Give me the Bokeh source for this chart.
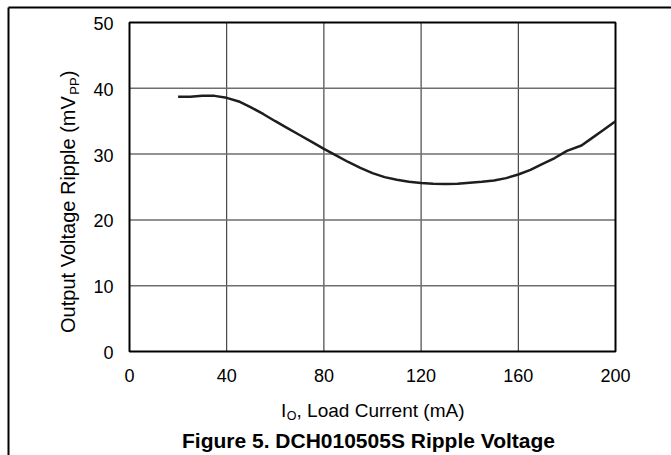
import math
from bokeh.plotting import figure
from bokeh.models import Range1d
from bokeh.core.properties import value
from bokeh.embed import file_html
from bokeh.resources import INLINE

# ---- data ----
load_current_ma = [20, 25, 30, 35, 40, 45, 50, 55, 60, 65, 70, 75, 80, 85, 90,
                   95, 100, 105, 110, 115, 120, 125, 130, 135, 140, 145, 150,
                   155, 160, 165, 170, 175, 180, 186, 190, 195, 200]
ripple_mvpp = [38.7, 38.7, 38.85, 38.85, 38.55, 38.0, 37.1, 36.1, 35.0, 33.95,
               32.9, 31.85, 30.8, 29.8, 28.8, 27.9, 27.1, 26.5, 26.1, 25.8,
               25.6, 25.5, 25.45, 25.5, 25.65, 25.8, 26.0, 26.35, 26.9, 27.6,
               28.5, 29.4, 30.5, 31.3, 32.35, 33.65, 35.0]
x_ticks = [0, 40, 80, 120, 160, 200]
y_ticks = [0, 10, 20, 30, 40, 50]
x_title = ["I", "O", ", Load Current (mA)"]
y_title = ["Output Voltage Ripple (mV", "PP", ")"]
caption = "Figure 5. DCH010505S Ripple Voltage"

# ---- layout (canvas pixels) ----
W, H = 671, 455
BOX_L, BOX_R, BOX_T, BOX_B = 129, 615, 22, 351
FONT = "Liberation Sans"
FS = 18
FS_X, FS_XSUB = 19, 12.5
FS_Y, FS_YSUB = 20, 13

sx = (BOX_R - BOX_L) / (x_ticks[-1] - x_ticks[0])
sy = (BOX_B - BOX_T) / (y_ticks[-1] - y_ticks[0])
def dx(px):
    return x_ticks[0] + (px - BOX_L) / sx
def dy(py):
    return y_ticks[0] + (BOX_B - py) / sy

# Arial / Liberation Sans advance widths (1/1000 em)
AW = {"I": 278, "O": 778, ",": 278, " ": 278, "L": 556, "o": 556, "a": 556,
      "d": 556, "C": 722, "u": 556, "r": 333, "e": 556, "n": 556, "t": 278,
      "(": 333, ")": 333, "m": 833, "A": 667, "p": 556, "V": 667, "l": 222,
      "g": 556, "R": 722, "i": 222, "P": 667}
def tw(s, size):
    return sum(AW.get(c, 556) for c in s) * size / 1000.0

p = figure(width=W, height=H, output_backend="svg", toolbar_location=None,
           x_range=Range1d(dx(0), dx(W)), y_range=Range1d(dy(H), dy(0)),
           x_axis_location=None, y_axis_location=None,
           min_border=0, min_border_left=0, min_border_right=0,
           min_border_top=0, min_border_bottom=0)
p.outline_line_color = None
p.xgrid.visible = False
p.ygrid.visible = False
p.background_fill_color = "white"
p.border_fill_color = "white"

# page frame lines (top and left)
p.segment(x0=[dx(8), dx(8)], y0=[dy(7), dy(7)], x1=[dx(W + 20), dx(8)],
          y1=[dy(7), dy(H + 20)], line_color="black", line_width=2)

# grid lines
n_x, n_y = len(x_ticks) - 2, len(y_ticks) - 2
p.segment(x0=x_ticks[1:-1], x1=x_ticks[1:-1],
          y0=[y_ticks[0]] * n_x, y1=[y_ticks[-1]] * n_x,
          line_color="#222222", line_width=1)
p.segment(y0=y_ticks[1:-1], y1=y_ticks[1:-1],
          x0=[x_ticks[0]] * n_y, x1=[x_ticks[-1]] * n_y,
          line_color="#6e6e6e", line_width=1.5)

# plot box
p.quad(left=[x_ticks[0]], right=[x_ticks[-1]], bottom=[y_ticks[0]], top=[y_ticks[-1]],
       fill_color=None, line_color="black", line_width=2)

# curve
p.line(load_current_ma, ripple_mvpp, line_color="#1e1e1e", line_width=2.5)

txt = dict(text_font=value(FONT), text_color="black", text_baseline="middle")

# tick labels
p.text(x=x_ticks, y=[y_ticks[0]] * len(x_ticks), text=[str(t) for t in x_ticks],
       y_offset=24, text_align="center", text_font_size=f"{FS}px", **txt)
p.text(x=[x_ticks[0]] * len(y_ticks), y=y_ticks, text=[str(t) for t in y_ticks],
       x_offset=-16, y_offset=1, text_align="right", text_font_size=f"{FS}px", **txt)

# x axis title with subscript
w0, w1, w2 = tw(x_title[0], FS_X), tw(x_title[1], FS_XSUB), tw(x_title[2], FS_X)
x_start = (BOX_L + BOX_R) / 2 - (w0 + w1 + w2) / 2
xc = 409.5
p.text(x=[dx(x_start), dx(x_start + w0 + w1 + 0.5)], y=[dy(xc), dy(xc)],
       text=[x_title[0], x_title[2]], text_align="left",
       text_font_size=f"{FS_X}px", **txt)
p.text(x=[dx(x_start + w0 + 0.3)], y=[dy(xc + 6)], text=[x_title[1]],
       text_align="left", text_font_size=f"{FS_XSUB}px", **txt)

# y axis title (rotated) with subscript
v0, v1, v2 = tw(y_title[0], FS_Y), tw(y_title[1], FS_YSUB), tw(y_title[2], FS_Y)
y_center = 201.5
y_start = y_center + (v0 + v1 + v2) / 2
yc = 67
p.text(x=[dx(yc), dx(yc)], y=[dy(y_start), dy(y_start - v0 - v1 - 0.5)],
       text=[y_title[0], y_title[2]], angle=math.pi / 2, text_align="left",
       text_font_size=f"{FS_Y}px", **txt)
p.text(x=[dx(yc + 6.5)], y=[dy(y_start - v0 - 0.3)], text=[y_title[1]],
       angle=math.pi / 2, text_align="left",
       text_font_size=f"{FS_YSUB}px", **txt)

# caption
p.text(x=[dx(368)], y=[dy(439.5)], text=[caption], text_align="center",
       text_font_size="21px", text_font_style="bold", **txt)

open("out.html", "w").write(file_html(p, INLINE))
